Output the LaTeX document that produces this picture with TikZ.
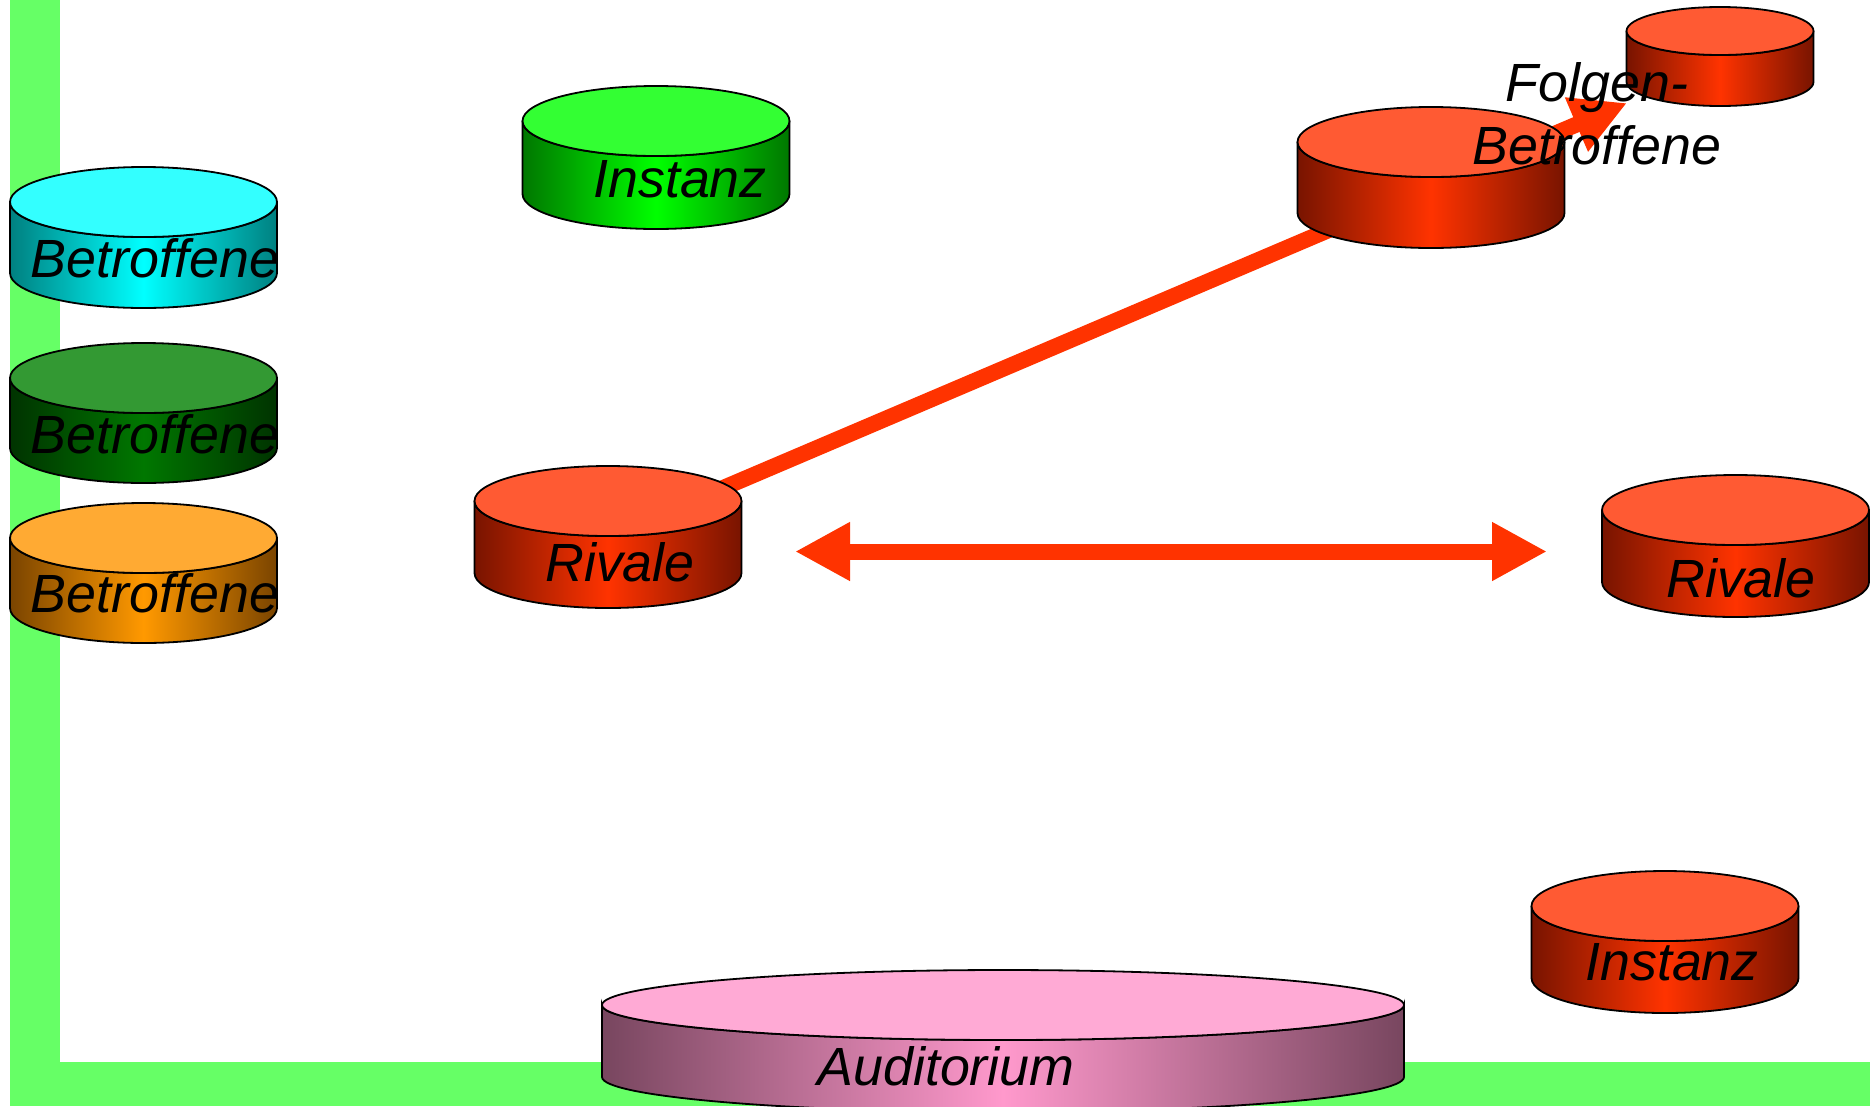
\documentclass[tikz,border=0pt]{standalone}
\usepackage{fontspec}
\setmainfont{Liberation Sans}
\usetikzlibrary{arrows.meta}
\definecolor{barGreen}{HTML}{66FF66}
\definecolor{redTop}{HTML}{FF5A33}
\definecolor{redEdge}{HTML}{781400}
\definecolor{redMid}{HTML}{FF3300}
\definecolor{cyanTop}{HTML}{33FFFF}
\definecolor{cyanEdge}{HTML}{008080}
\definecolor{cyanMid}{HTML}{00FFFF}
\definecolor{dgTop}{HTML}{339933}
\definecolor{dgEdge}{HTML}{003300}
\definecolor{dgMid}{HTML}{007700}
\definecolor{orTop}{HTML}{FFAA33}
\definecolor{orEdge}{HTML}{7A4400}
\definecolor{orMid}{HTML}{FF9900}
\definecolor{grTop}{HTML}{33FF33}
\definecolor{grEdge}{HTML}{007700}
\definecolor{grMid}{HTML}{00FF00}
\definecolor{pkTop}{HTML}{FFAAD5}
\definecolor{pkEdge}{HTML}{78465F}
\definecolor{pkMid}{HTML}{FF99CC}
\definecolor{arrowRed}{HTML}{FF3300}
\tikzset{
  outline/.style={draw=black,line width=1.8pt},
  lbl/.style={anchor=base,inner sep=0pt,font=\fontsize{53.8pt}{64pt}\selectfont\itshape},
  conn/.style={draw=arrowRed,line width=16pt}
}
% name, cx, top y, bottom y, rx, ry, top colour, edge colour, middle colour
\newcommand{\mycyl}[9]{%
  \path[outline,left color=#8,right color=#8,middle color=#9]
    (#2-#5,#3) -- (#2-#5,#4) arc[start angle=180,end angle=0,x radius=#5,y radius=#6]
    -- (#2+#5,#3) arc[start angle=0,end angle=180,x radius=#5,y radius=#6] -- cycle;
  \path[outline,fill=#7] (#2,#3) ellipse[x radius=#5,y radius=#6];
  \coordinate (#1) at (#2,{(#3+#4)/2});
}
\begin{document}
\begin{tikzpicture}[x=1pt,y=-1pt]
\useasboundingbox (0,0) rectangle (1870,1106);
% green L frame
\fill[barGreen] (10,0) rectangle (60,1106);
\fill[barGreen] (10,1062) rectangle (1870,1106);
% connector anchors
\coordinate (rivLc) at (608,537);
\coordinate (tipA) at (1627,103);
\coordinate (dl) at (795,551.5);
\coordinate (dr) at (1547,551.5);
% connectors (behind the cylinders)
\draw[conn,-{Triangle[length=55pt,width=55pt]}] (rivLc) -- (tipA);
\draw[conn,{Triangle[length=55pt,width=55pt]}-{Triangle[length=55pt,width=55pt]}] (dl) -- (dr);
% cylinders
\mycyl{cyanB}{143.5}{202}{273}{133.5}{35}{cyanTop}{cyanEdge}{cyanMid}
\mycyl{dgB}{143.5}{378}{448}{133.5}{35}{dgTop}{dgEdge}{dgMid}
\mycyl{orB}{143.5}{538}{608}{133.5}{35}{orTop}{orEdge}{orMid}
\mycyl{instG}{656}{121}{194}{133.5}{35}{grTop}{grEdge}{grMid}
\mycyl{rivL}{608}{501}{573}{133.5}{35}{redTop}{redEdge}{redMid}
\mycyl{midR}{1431}{142}{213}{133.5}{35}{redTop}{redEdge}{redMid}
\mycyl{smallR}{1720}{31}{82}{93.5}{24}{redTop}{redEdge}{redMid}
\mycyl{rivR}{1735.5}{510}{582}{133.5}{35}{redTop}{redEdge}{redMid}
\mycyl{instR}{1665}{906}{978}{133.5}{35}{redTop}{redEdge}{redMid}
\mycyl{aud}{1003}{1005}{1077}{401}{35}{pkTop}{pkEdge}{pkMid}
% labels
\node[lbl] (t1) at (155,277) {Betroffene};
\node[lbl] (t2) at (155,453) {Betroffene};
\node[lbl] (t3) at (155,612) {Betroffene};
\node[lbl] (t4) at (680,197) {Instanz};
\node[lbl] (t5) at (620,581) {Rivale};
\node[lbl] (t6) at (1741,597) {Rivale};
\node[lbl] (t7) at (1672,980) {Instanz};
\node[lbl] (t8) at (946,1085) {Auditorium};
\node[lbl] (t9) at (1597,101) {Folgen-};
\node[lbl] (t10) at (1597,164) {Betroffene};
\end{tikzpicture}
\end{document}
